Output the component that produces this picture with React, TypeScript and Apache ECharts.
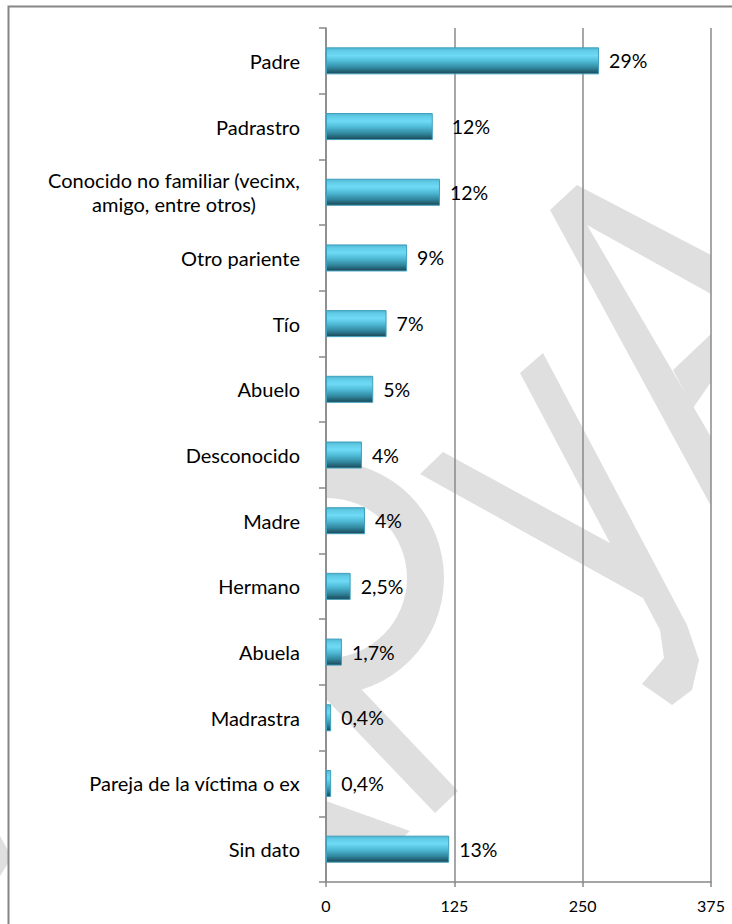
import React, { useEffect, useRef } from "react";
import * as echarts from "echarts";

const categories = [
  "Padre",
  "Padrastro",
  "Conocido no familiar (vecinx,\namigo, entre otros)",
  "Otro pariente",
  "Tío",
  "Abuelo",
  "Desconocido",
  "Madre",
  "Hermano",
  "Abuela",
  "Madrastra",
  "Pareja de la víctima o ex",
  "Sin dato",
];

const values = [266, 104, 111, 79, 59, 46, 35, 38, 24, 15.5, 5, 5, 120];

const percentLabels = [
  "29%", "12%", "12%", "9%", "7%", "5%", "4%", "4%", "2,5%", "1,7%", "0,4%", "0,4%", "13%",
];

const axisTicks = [0, 125, 250, 375];

const FONT = "Lato, 'Open Sans', sans-serif";
const WM = "#dfdfdf";

export default function App() {
  const ref = useRef<HTMLDivElement>(null);

  useEffect(() => {
    if (!ref.current) return;
    const chart = echarts.init(ref.current, undefined, { renderer: "svg" });

    const barGradient = new echarts.graphic.LinearGradient(0, 0, 0, 1, [
      { offset: 0, color: "#4fb5d0" },
      { offset: 0.12, color: "#62cde8" },
      { offset: 0.3, color: "#6fdaf5" },
      { offset: 0.52, color: "#4fbad6" },
      { offset: 0.78, color: "#30859c" },
      { offset: 1, color: "#1b4655" },
    ]);

    const data = values.map((v, i) => {
      const item: any = { value: v };
      if (i === 1) item.label = { distance: 19 };
      return item;
    });

    const wm = (points: number[][]) => ({
      type: "polygon",
      z: -10,
      silent: true,
      shape: { points },
      style: { fill: WM },
    });

    const option: any = {
      animation: false,
      grid: { left: 326, right: 21, top: 28, bottom: 42, containLabel: false },
      xAxis: {
        type: "value",
        min: axisTicks[0],
        max: axisTicks[axisTicks.length - 1],
        interval: axisTicks[1] - axisTicks[0],
        axisLine: { show: true, lineStyle: { color: "#888", width: 1.5 } },
        axisTick: { show: true, length: 5, lineStyle: { color: "#888", width: 1.5 } },
        axisLabel: { color: "#000", fontSize: 16, fontFamily: FONT, margin: 15 },
        splitLine: { show: true, lineStyle: { color: "#8a8a8a", width: 1.5 } },
      },
      yAxis: {
        type: "category",
        inverse: true,
        data: categories,
        axisLine: { show: true, lineStyle: { color: "#888", width: 1.5 } },
        axisTick: { show: true, length: 7, lineStyle: { color: "#888", width: 1.5 } },
        axisLabel: {
          color: "#000",
          fontSize: 20,
          fontFamily: FONT,
          margin: 26,
          lineHeight: 24,
          formatter: (v: string) =>
            v
              .split("\n")
              .map((l) => `{c|${l}}`)
              .join("\n"),
          rich: {
            c: { align: "center", fontSize: 20, fontFamily: FONT, color: "#000", lineHeight: 24 },
          },
        },
      },
      series: [
        {
          type: "bar",
          data,
          barWidth: 27,
          itemStyle: { color: barGradient, borderColor: "#3f9fbb", borderWidth: 1 },
          label: {
            show: true,
            position: "right",
            distance: 10,
            color: "#000",
            fontSize: 19.5,
            fontFamily: FONT,
            formatter: (p: any) => percentLabels[p.dataIndex],
          },
        },
      ],
      graphic: {
        elements: [
          // watermark shapes (behind plot)
          {
            type: "sector",
            z: -10,
            silent: true,
            shape: { cx: 327, cy: 578, r0: 80, r: 117, startAngle: -Math.PI / 2, endAngle: Math.PI / 2, clockwise: true },
            style: { fill: WM },
          },
          wm([[326, 652], [458, 791], [435, 813], [326, 699]]),
          wm([[326, 801], [410, 831], [398, 842], [326, 842]]),
          wm([[0, 836], [9, 852], [9, 862], [0, 876]]),
          wm([
            [420, 474], [443, 452], [610, 543], [520, 373], [543, 353], [687, 625],
            [699, 660], [692, 690], [672, 705], [642, 684], [664, 658], [660, 630], [643, 598],
          ]),
          wm([[577, 185], [711, 255], [711, 294], [587, 225], [711, 437], [711, 506], [550, 210]]),
          wm([[673, 370], [711, 334], [711, 382], [693, 408]]),
          // chart border
          {
            type: "rect",
            z: 100,
            silent: true,
            shape: { x: 8.5, y: 6.5, width: 800, height: 1000 },
            style: { fill: "none", stroke: "#868686", lineWidth: 2 },
          },
        ],
      },
    };

    chart.setOption(option);
    return () => chart.dispose();
  }, []);

  return (
    <div
      ref={ref}
      style={{ position: "absolute", left: 0, top: 0, width: 732, height: 924, background: "#fff" }}
    />
  );
}
